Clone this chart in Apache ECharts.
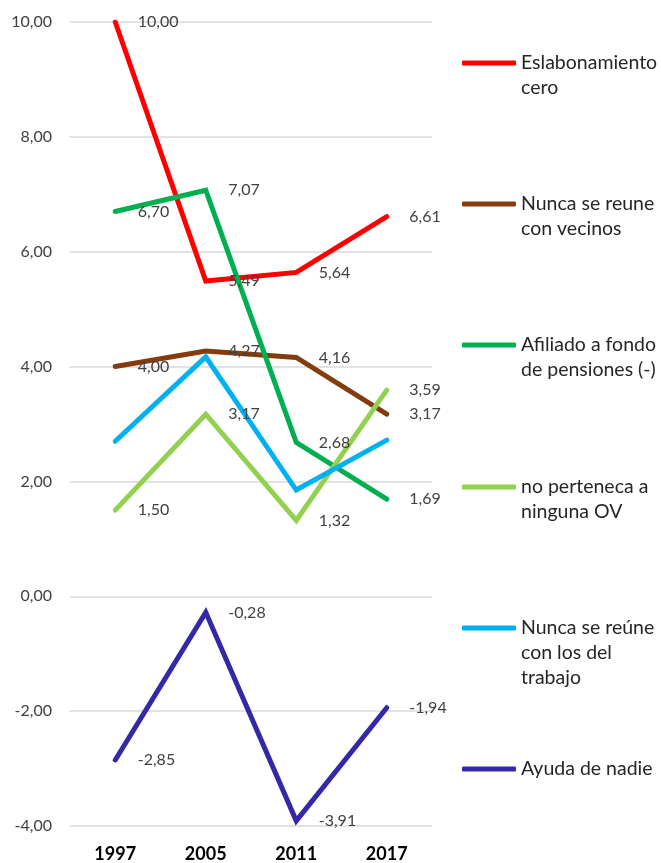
<!DOCTYPE html>
<html>
<head>
<meta charset="utf-8">
<script src="https://cdn.jsdelivr.net/npm/echarts@6/dist/echarts.min.js"></script>
<style>html,body{margin:0;padding:0;background:#fff}#c{width:661px;height:863px}</style>
</head>
<body>
<div id="c"></div>
<script>
var years = ['1997', '2005', '2011', '2017'];
var eslabonamiento = [10.00, 5.49, 5.64, 6.61];
var vecinos = [4.00, 4.27, 4.16, 3.17];
var pensiones = [6.70, 7.07, 2.68, 1.69];
var noOV = [1.50, 3.17, 1.32, 3.59];
var trabajo = [2.70, 4.17, 1.85, 2.72];
var nadie = [-2.85, -0.28, -3.91, -1.94];
var yTicks = { min: -4, max: 10, interval: 2 };

var seriesDefs = [
  { name: 'Eslabonamiento cero', lines: ['Eslabonamiento', 'cero'], data: eslabonamiento, color: '#FF0000', label: true, cy: 63 },
  { name: 'Nunca se reune con vecinos', lines: ['Nunca se reune', 'con vecinos'], data: vecinos, color: '#843C0C', label: true, cy: 204 },
  { name: 'Afiliado a fondo de pensiones (-)', lines: ['Afiliado a fondo', 'de pensiones (-)'], data: pensiones, color: '#00B050', label: true, cy: 345 },
  { name: 'no perteneca a ninguna OV', lines: ['no perteneca a', 'ninguna OV'], data: noOV, color: '#92D050', label: true, cy: 487 },
  { name: 'Nunca se reúne con los del trabajo', lines: ['Nunca se reúne', 'con los del', 'trabajo'], data: trabajo, color: '#00B0F0', label: false, cy: 628 },
  { name: 'Ayuda de nadie', lines: ['Ayuda de nadie'], data: nadie, color: '#3328A8', label: true, cy: 769 }
];

function fmt(v) { return v.toFixed(2).replace('.', ','); }
var LH = 25;
var FONT = 'Lato';

var legends = seriesDefs.map(function (s) {
  var n = s.lines.length;
  var padded = [];
  for (var i = 0; i < n - 1; i++) padded.push('');
  var text = padded.concat(s.lines).join('\n');
  var total = (2 * n - 1) * LH;
  return {
    data: [s.name],
    left: 462,
    top: s.cy - total / 2,
    padding: 0,
    icon: 'roundRect',
    itemWidth: 54,
    itemHeight: 5,
    selectedMode: false,
    formatter: function () { return text; },
    textStyle: { fontFamily: FONT, fontSize: 19.5, color: '#262626', lineHeight: LH }
  };
});

var series = seriesDefs.map(function (s) {
  return {
    name: s.name,
    type: 'line',
    data: s.data,
    symbol: 'circle',
    symbolSize: 1,
    showSymbol: true,
    lineStyle: { color: s.color, width: 5, cap: 'round', join: 'miter' },
    itemStyle: { color: s.color },
    label: {
      show: s.label,
      position: 'right',
      distance: 22,
      fontFamily: FONT,
      fontSize: 16,
      color: '#404040',
      formatter: function (p) { return fmt(p.value); }
    },
    emphasis: { disabled: true },
    animation: false
  };
});

var chart = echarts.init(document.getElementById('c'));
chart.setOption({
  animation: false,
  legend: legends,
  grid: { left: 70, right: 229, top: 22, bottom: 35 },
  xAxis: {
    type: 'category',
    data: years,
    boundaryGap: true,
    axisLine: { show: false },
    axisTick: { show: false },
    axisLabel: { fontFamily: FONT, fontSize: 18, fontWeight: 'bold', color: '#000', margin: 19 }
  },
  yAxis: {
    type: 'value',
    min: yTicks.min,
    max: yTicks.max,
    interval: yTicks.interval,
    axisLine: { show: false },
    axisTick: { show: false },
    splitLine: { lineStyle: { color: '#D9D9D9', width: 1.5 } },
    axisLabel: { fontFamily: FONT, fontSize: 16, color: '#404040', margin: 18, formatter: function (v) { return fmt(v); } }
  },
  series: series
});
</script>
</body>
</html>
